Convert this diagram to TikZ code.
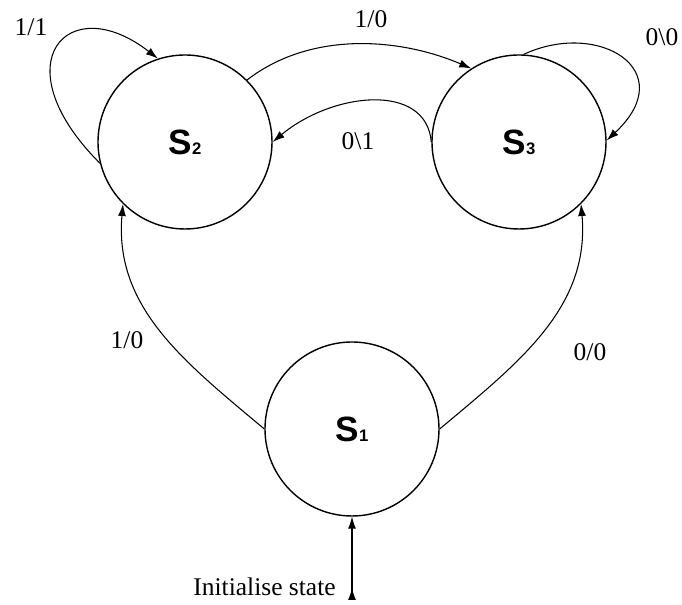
\documentclass[tikz,border=0pt]{standalone}
\usepackage{fontspec}
\setmainfont{Liberation Serif}
\newfontfamily\statefont{Liberation Sans}
\usetikzlibrary{arrows.meta,positioning}

\begin{document}
\begin{tikzpicture}[
  font=\fontsize{14.5}{16}\selectfont,
  state/.style={draw, circle, line width=0.8pt, minimum size=3.48cm,
                inner sep=0pt, font=\statefont\bfseries\fontsize{20}{22}\selectfont},
  lbl/.style={inner sep=0pt},
  ar/.style={-{Latex[length=2.4mm, width=1.6mm]}, line width=0.6pt},
]
\useasboundingbox (0,0) rectangle (13.64,12.10);

\node[state] (s2) at (3.70,9.26)  {S{\fontsize{9.5}{10}\selectfont 2}};
\node[state] (s3) at (10.38,9.26) {S{\fontsize{9.5}{10}\selectfont 3}};
\node[state] (s1) at (7.04,3.52)  {S{\fontsize{9.5}{10}\selectfont 1}};

\coordinate (init) at (7.04,0.10);
\node[lbl, anchor=east] (initlbl) at (6.72,0.36) {Initialise state};

% transitions
\draw[ar] (s1.180) to[out=140, in=-95] (s2.225);
\draw[ar] (s1.0) to[out=40, in=-85] (s3.-45);
\draw[ar] (s2.45) .. controls +(1.3,1.0) and +(-1.4,0.6) .. (s3.123);
\draw[ar] (s3.180) .. controls +(-0.1,1.2) and +(1.2,1.0) .. (s2.0);

% self loops
\draw[ar] (s2.194) .. controls +(-2.0,2.0) and +(-1.8,1.4) .. (s2.108);
\draw[ar] (s3.87) .. controls +(1.5,0.7) and +(1.5,1.4) .. (s3.1);

% initial state
\draw[{Latex[length=2.4mm, width=1.6mm, reversed]}-{Latex[length=2.4mm, width=1.6mm]}, line width=0.6pt]
  (init) -- (s1.south);

% labels
\node[lbl] (l22) at (0.62,11.56) {1/1};
\node[lbl] (l23) at (7.42,11.72) {1/0};
\node[lbl] (l32) at (7.16,9.28)  {0\textbackslash 1};
\node[lbl] (l33) at (13.24,11.36) {0\textbackslash 0};
\node[lbl] (l12) at (2.54,5.30)  {1/0};
\node[lbl] (l13) at (11.80,5.06) {0/0};
\end{tikzpicture}
\end{document}
